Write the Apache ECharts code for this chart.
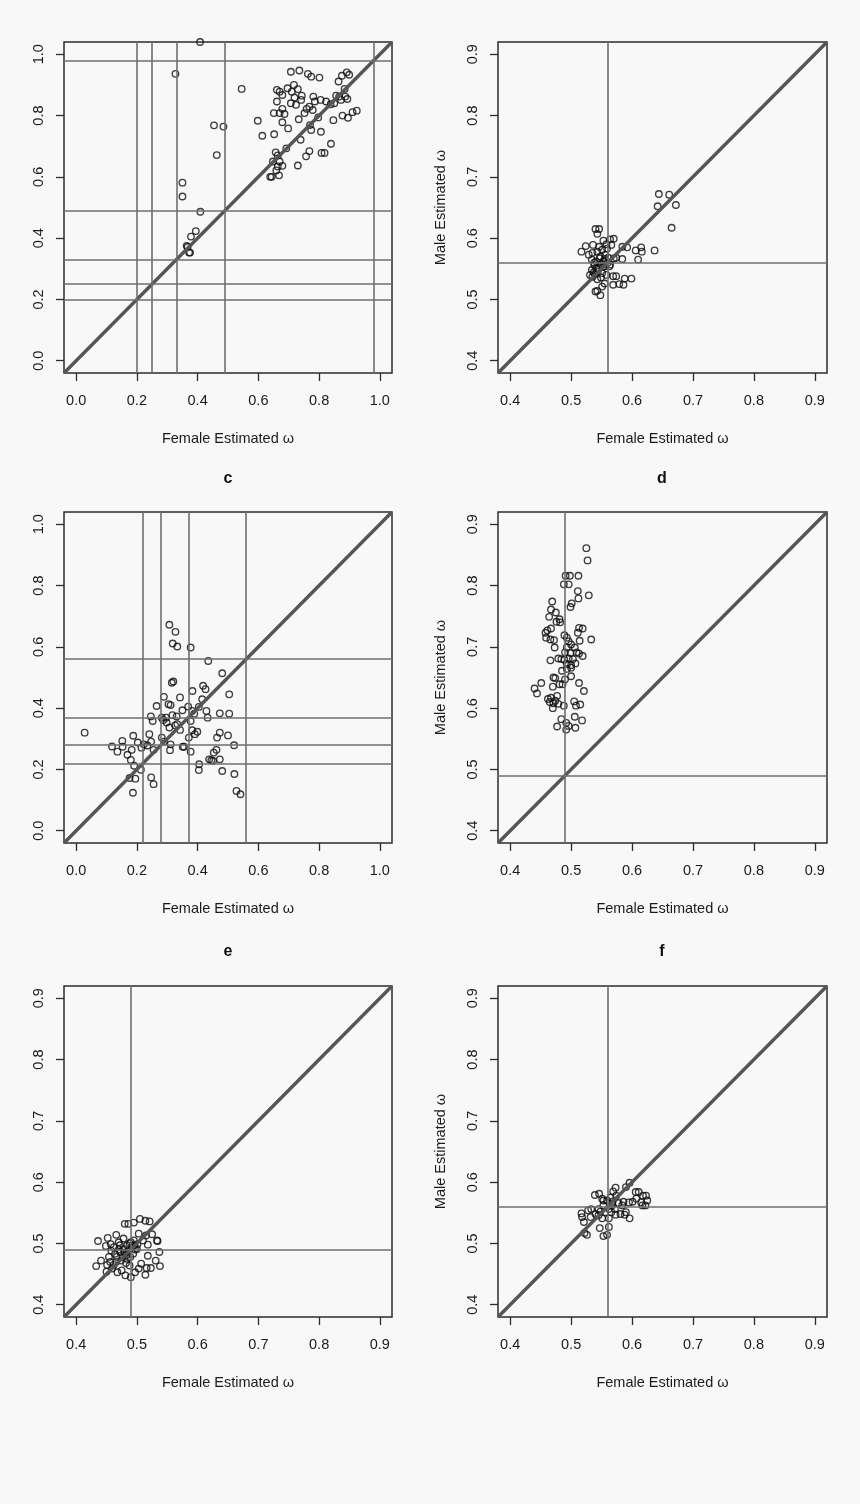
<!DOCTYPE html>
<html>
<head>
<meta charset="utf-8">
<script src="https://cdn.jsdelivr.net/npm/echarts@6/dist/echarts.min.js"></script>
<style>
html,body{margin:0;padding:0;background:#f8f8f8;}
#chart{width:860px;height:1504px;}
</style>
</head>
<body>
<div id="chart"></div>
<script>
// ---------- data ----------
const ticksWide = [0, 0.2, 0.4, 0.6, 0.8, 1.0];
const ticksNarrow = [0.4, 0.5, 0.6, 0.7, 0.8, 0.9];
const rangeWide = [-0.04, 1.04];
const rangeNarrow = [0.38, 0.92];
const xTitle = 'Female Estimated ω';
const yTitle = 'Male Estimated ω';
const panelLetters = ['c', 'd', 'e', 'f'];

const refA = [0.198, 0.246, 0.327, 0.491, 0.982];
const refB = [0.56];
const refC = [0.223, 0.281, 0.374, 0.561];
const refD = [0.49];
const refE = [0.491];
const refF = [0.56];

const ptsA = [
  [0.408,1.04],[0.327,0.936],[0.545,0.887],[0.454,0.768],[0.485,0.764],[0.463,0.671],
  [0.350,0.581],[0.350,0.536],[0.409,0.486],[0.394,0.423],[0.378,0.405],[0.364,0.375],
  [0.367,0.371],[0.372,0.353],[0.375,0.353],
  [0.707,0.943],[0.735,0.947],[0.763,0.936],[0.774,0.927],[0.801,0.924],[0.875,0.930],
  [0.891,0.941],[0.899,0.933],[0.864,0.911],[0.661,0.884],[0.670,0.878],[0.679,0.867],
  [0.696,0.889],[0.717,0.900],[0.710,0.878],[0.730,0.886],[0.719,0.859],[0.743,0.865],
  [0.661,0.846],[0.707,0.840],[0.724,0.835],[0.741,0.851],[0.781,0.862],[0.786,0.846],
  [0.805,0.851],[0.823,0.846],[0.838,0.837],[0.850,0.840],[0.856,0.865],[0.866,0.862],
  [0.872,0.851],[0.884,0.887],[0.886,0.862],[0.893,0.854],[0.877,0.800],[0.895,0.793],
  [0.910,0.811],[0.924,0.816],[0.651,0.808],[0.670,0.808],[0.679,0.822],[0.686,0.805],
  [0.679,0.778],[0.752,0.808],[0.759,0.822],[0.768,0.829],[0.779,0.818],[0.733,0.788],
  [0.797,0.794],[0.847,0.785],[0.598,0.783],[0.613,0.734],[0.652,0.739],[0.698,0.758],
  [0.770,0.769],[0.774,0.753],[0.806,0.747],[0.739,0.721],[0.839,0.708],[0.692,0.693],
  [0.657,0.680],[0.664,0.670],[0.768,0.684],[0.757,0.667],[0.808,0.678],[0.818,0.678],
  [0.648,0.650],[0.670,0.650],[0.679,0.636],[0.664,0.634],[0.659,0.621],[0.730,0.637],
  [0.668,0.605],[0.639,0.600],[0.644,0.600]
];

const ptsB = [
  [0.644,0.672],[0.661,0.671],[0.642,0.652],[0.672,0.654],[0.665,0.617],[0.637,0.580],
  [0.615,0.585],[0.616,0.578],[0.606,0.580],[0.610,0.565],[0.592,0.585],[0.584,0.586],
  [0.584,0.566],[0.599,0.534],[0.588,0.534],[0.586,0.524],[0.579,0.525],[0.569,0.524],
  [0.574,0.538],[0.569,0.538],[0.540,0.615],[0.546,0.615],[0.543,0.607],[0.570,0.599],
  [0.564,0.598],[0.553,0.596],[0.566,0.589],[0.558,0.590],[0.536,0.589],[0.524,0.587],
  [0.517,0.578],[0.529,0.573],[0.535,0.576],[0.543,0.578],[0.551,0.581],[0.548,0.570],
  [0.556,0.573],[0.534,0.565],[0.541,0.562],[0.553,0.562],[0.561,0.568],[0.570,0.567],
  [0.574,0.568],[0.564,0.557],[0.556,0.554],[0.545,0.551],[0.534,0.548],[0.531,0.540],
  [0.539,0.541],[0.551,0.543],[0.558,0.540],[0.543,0.533],[0.555,0.526],[0.551,0.521],
  [0.543,0.514],[0.548,0.507],[0.540,0.513],[0.563,0.554],[0.559,0.583],[0.546,0.586],
  [0.538,0.556],[0.544,0.545],[0.552,0.553],[0.535,0.537],[0.547,0.567],[0.538,0.560],
  [0.550,0.558],[0.541,0.550],[0.555,0.566],[0.537,0.544],[0.549,0.536],[0.560,0.560]
];

const ptsC = [
  [0.028,0.320],[0.118,0.275],[0.136,0.258],[0.152,0.293],[0.153,0.274],[0.169,0.248],
  [0.180,0.231],[0.183,0.264],[0.188,0.310],[0.191,0.212],[0.176,0.172],[0.195,0.170],
  [0.187,0.124],[0.213,0.199],[0.203,0.288],[0.215,0.271],[0.223,0.282],[0.235,0.278],
  [0.241,0.315],[0.247,0.291],[0.255,0.264],[0.247,0.174],[0.255,0.152],[0.246,0.373],
  [0.252,0.358],[0.265,0.407],[0.282,0.304],[0.289,0.291],[0.289,0.437],[0.282,0.369],
  [0.287,0.361],[0.296,0.369],[0.298,0.353],[0.307,0.337],[0.304,0.413],[0.311,0.410],
  [0.307,0.672],[0.327,0.649],[0.318,0.611],[0.333,0.601],[0.377,0.598],[0.315,0.483],
  [0.320,0.487],[0.311,0.282],[0.309,0.263],[0.317,0.377],[0.326,0.344],[0.331,0.373],
  [0.333,0.348],[0.342,0.435],[0.342,0.329],[0.350,0.393],[0.351,0.274],[0.355,0.274],
  [0.369,0.405],[0.371,0.304],[0.377,0.358],[0.383,0.456],[0.382,0.391],[0.389,0.382],
  [0.391,0.315],[0.377,0.258],[0.382,0.328],[0.399,0.323],[0.404,0.404],[0.405,0.217],
  [0.404,0.198],[0.415,0.429],[0.418,0.473],[0.426,0.462],[0.435,0.554],[0.429,0.391],
  [0.433,0.369],[0.438,0.233],[0.451,0.228],[0.453,0.255],[0.462,0.264],[0.473,0.233],
  [0.464,0.304],[0.473,0.320],[0.473,0.383],[0.481,0.514],[0.481,0.195],[0.500,0.311],
  [0.504,0.445],[0.504,0.382],[0.520,0.279],[0.521,0.185],[0.528,0.130],[0.541,0.119],
  [0.445,0.230]
];

const ptsD = [
  [0.525,0.861],[0.527,0.841],[0.491,0.816],[0.498,0.816],[0.512,0.816],[0.488,0.802],
  [0.496,0.802],[0.511,0.791],[0.529,0.784],[0.512,0.779],[0.501,0.771],[0.499,0.765],
  [0.469,0.774],[0.467,0.761],[0.475,0.756],[0.464,0.749],[0.481,0.745],[0.476,0.741],
  [0.482,0.740],[0.467,0.730],[0.461,0.727],[0.458,0.723],[0.459,0.715],[0.466,0.712],
  [0.472,0.711],[0.473,0.699],[0.466,0.678],[0.489,0.719],[0.493,0.715],[0.496,0.709],
  [0.500,0.704],[0.506,0.699],[0.513,0.731],[0.519,0.730],[0.511,0.723],[0.514,0.710],
  [0.533,0.712],[0.493,0.699],[0.490,0.691],[0.499,0.690],[0.509,0.691],[0.513,0.689],
  [0.519,0.685],[0.484,0.680],[0.479,0.681],[0.489,0.679],[0.496,0.681],[0.503,0.680],
  [0.493,0.672],[0.500,0.670],[0.507,0.673],[0.485,0.661],[0.493,0.664],[0.500,0.666],
  [0.500,0.652],[0.471,0.650],[0.474,0.649],[0.481,0.639],[0.486,0.639],[0.490,0.647],
  [0.470,0.635],[0.451,0.641],[0.440,0.632],[0.444,0.624],[0.513,0.641],[0.521,0.628],
  [0.462,0.615],[0.465,0.610],[0.467,0.617],[0.471,0.608],[0.477,0.620],[0.479,0.607],
  [0.488,0.604],[0.470,0.600],[0.474,0.612],[0.505,0.611],[0.508,0.604],[0.515,0.606],
  [0.484,0.582],[0.506,0.586],[0.518,0.580],[0.492,0.576],[0.496,0.571],[0.477,0.570],
  [0.492,0.565],[0.507,0.568]
];

const ptsE = [
  [0.480,0.532],[0.486,0.532],[0.495,0.534],[0.505,0.540],[0.514,0.537],[0.521,0.536],
  [0.466,0.514],[0.452,0.509],[0.436,0.504],[0.457,0.499],[0.449,0.496],[0.462,0.494],
  [0.470,0.502],[0.478,0.508],[0.484,0.497],[0.490,0.502],[0.496,0.497],[0.501,0.499],
  [0.503,0.516],[0.510,0.505],[0.515,0.513],[0.518,0.498],[0.525,0.515],[0.533,0.505],
  [0.534,0.504],[0.518,0.480],[0.537,0.486],[0.531,0.472],[0.538,0.463],[0.523,0.460],
  [0.516,0.460],[0.514,0.449],[0.507,0.467],[0.503,0.459],[0.497,0.453],[0.490,0.445],
  [0.481,0.448],[0.488,0.464],[0.484,0.475],[0.474,0.472],[0.467,0.478],[0.462,0.465],
  [0.454,0.478],[0.441,0.472],[0.433,0.463],[0.451,0.465],[0.450,0.454],[0.459,0.459],
  [0.468,0.453],[0.475,0.456],[0.473,0.486],[0.478,0.491],[0.486,0.488],[0.492,0.494],
  [0.497,0.490],[0.483,0.481],[0.464,0.483],[0.456,0.470],[0.500,0.491],[0.472,0.497],
  [0.480,0.485],[0.488,0.500],[0.476,0.478],[0.494,0.483],[0.470,0.490],[0.482,0.468],
  [0.458,0.488],[0.495,0.505],[0.466,0.470],[0.489,0.478]
];

const ptsF = [
  [0.596,0.599],[0.590,0.592],[0.573,0.591],[0.569,0.585],[0.606,0.584],[0.611,0.584],
  [0.618,0.578],[0.623,0.578],[0.625,0.570],[0.622,0.562],[0.617,0.562],[0.615,0.567],
  [0.607,0.573],[0.601,0.568],[0.595,0.567],[0.586,0.568],[0.584,0.562],[0.590,0.551],
  [0.596,0.541],[0.588,0.547],[0.581,0.548],[0.573,0.547],[0.566,0.551],[0.562,0.541],
  [0.562,0.527],[0.559,0.514],[0.553,0.512],[0.547,0.525],[0.526,0.514],[0.522,0.517],
  [0.521,0.535],[0.518,0.543],[0.517,0.549],[0.528,0.554],[0.533,0.556],[0.532,0.543],
  [0.540,0.548],[0.545,0.546],[0.548,0.552],[0.553,0.562],[0.559,0.570],[0.551,0.573],
  [0.539,0.579],[0.546,0.581],[0.553,0.570],[0.565,0.575],[0.568,0.568],[0.574,0.578],
  [0.578,0.566],[0.567,0.562],[0.572,0.556],[0.562,0.556],[0.556,0.551],[0.551,0.541],
  [0.545,0.556]
];

// ---------- layout ----------
const FONT = '"Liberation Sans", Arial, Helvetica, sans-serif';
const panels = [
  {pts: ptsA, ref: refA, range: rangeWide, ticks: ticksWide, grid: {left: 64, top: 42, width: 328, height: 331}, yName: false},
  {pts: ptsB, ref: refB, range: rangeNarrow, ticks: ticksNarrow, grid: {left: 498, top: 42, width: 329, height: 331}, yName: true},
  {pts: ptsC, ref: refC, range: rangeWide, ticks: ticksWide, grid: {left: 64, top: 512, width: 328, height: 331}, yName: false},
  {pts: ptsD, ref: refD, range: rangeNarrow, ticks: ticksNarrow, grid: {left: 498, top: 512, width: 329, height: 331}, yName: true},
  {pts: ptsE, ref: refE, range: rangeNarrow, ticks: ticksNarrow, grid: {left: 64, top: 986, width: 328, height: 331}, yName: false},
  {pts: ptsF, ref: refF, range: rangeNarrow, ticks: ticksNarrow, grid: {left: 498, top: 986, width: 329, height: 331}, yName: true}
];

const grids = [], xAxes = [], yAxes = [], series = [];
panels.forEach((p, i) => {
  grids.push(Object.assign({show: true, borderColor: '#2b2b2b', borderWidth: 1.5, backgroundColor: 'transparent'}, p.grid));
  const common = {
    gridIndex: i, type: 'value', min: p.range[0], max: p.range[1],
    splitLine: {show: false},
    axisLine: {show: false, onZero: false},
    axisTick: {show: true, inside: false, length: 8, customValues: p.ticks, lineStyle: {color: '#2b2b2b', width: 1.3}},
    axisLabel: {customValues: p.ticks, fontFamily: FONT, fontSize: 14.5, color: '#1a1a1a'},
    nameTextStyle: {fontFamily: FONT, fontSize: 14.5, color: '#1a1a1a'}
  };
  const fmt = v => v.toFixed(1);
  const xa = JSON.parse(JSON.stringify(common));
  xa.axisLabel.formatter = fmt;
  xa.axisLabel.margin = 20;
  xa.position = 'bottom';
  xa.name = xTitle; xa.nameLocation = 'middle'; xa.nameGap = 58;
  xAxes.push(xa);
  const ya = JSON.parse(JSON.stringify(common));
  ya.axisLabel.formatter = fmt;
  ya.axisLabel.margin = 18;
  ya.axisLabel.rotate = 90;
  ya.position = 'left';
  if (p.yName) { ya.name = yTitle; ya.nameLocation = 'middle'; ya.nameGap = 50; }
  yAxes.push(ya);

  series.push({
    type: 'scatter', xAxisIndex: i, yAxisIndex: i, data: p.pts,
    symbol: 'circle', symbolSize: 6.5, clip: true, silent: true,
    itemStyle: {color: 'rgba(0,0,0,0)', borderColor: '#0d0d0d', borderWidth: 1.35},
    markLine: {
      silent: true, symbol: ['none', 'none'], label: {show: false}, animation: false,
      lineStyle: {color: '#6f6f6f', width: 1.6, type: 'solid'},
      data: p.ref.map(v => ({xAxis: v})).concat(p.ref.map(v => ({yAxis: v})))
    },
    z: 3
  });
  series.push({
    type: 'line', xAxisIndex: i, yAxisIndex: i,
    data: [[p.range[0], p.range[0]], [p.range[1], p.range[1]]],
    symbol: 'none', clip: true, silent: true,
    lineStyle: {color: '#555', width: 3.4},
    z: 4
  });
});

const letterPos = [[228, 479], [662, 479], [228, 952], [662, 952]];

const chart = echarts.init(document.getElementById('chart'), null, {renderer: 'canvas'});
chart.setOption({
  backgroundColor: '#f8f8f8',
  animation: false,
  grid: grids, xAxis: xAxes, yAxis: yAxes, series: series,
  graphic: panelLetters.map((t, i) => ({
    type: 'text', x: letterPos[i][0], y: letterPos[i][1],
    style: {text: t, font: 'bold 16px ' + FONT, fill: '#111', align: 'center', verticalAlign: 'middle'}
  }))
});
</script>
</body>
</html>
